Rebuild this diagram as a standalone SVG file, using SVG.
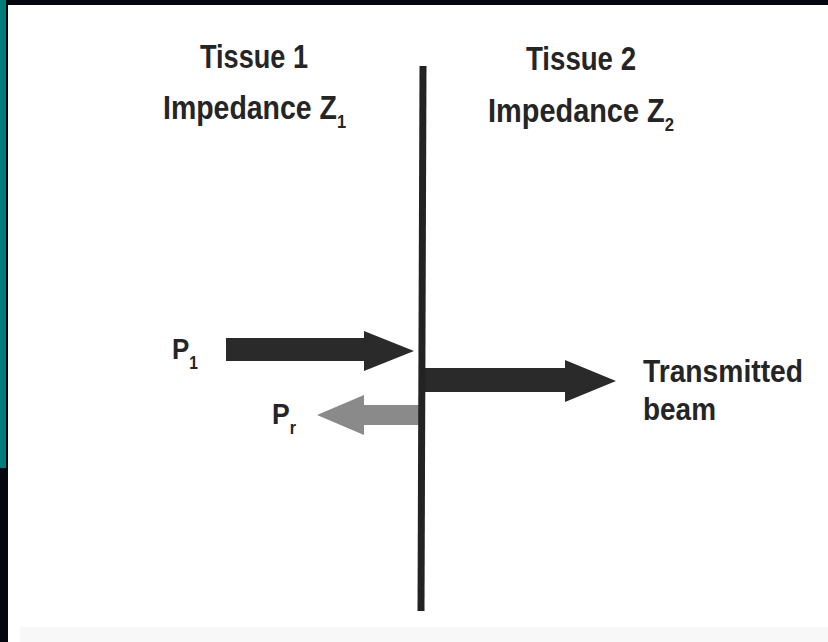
<svg xmlns="http://www.w3.org/2000/svg" width="828" height="642" viewBox="0 0 828 642">
<style>
.t{font-family:"Liberation Sans Narrow","Liberation Sans",Arial,sans-serif;font-weight:bold;fill:#252525}
.big{font-size:33px}
.sub{font-size:19px}
.dark{fill:#2a2a2a}
.grey{fill:#8a8a8a}
</style>
<rect x="0" y="0" width="828" height="642" fill="#04070e"/>
<rect x="0" y="0" width="6" height="468" fill="#007c7a"/>
<rect x="8" y="5" width="820" height="637" fill="#ffffff"/>
<rect x="20" y="627" width="808" height="15" fill="#f8f8f8"/>
<g id="tissue1">
<text class="t big" x="200" y="68" textLength="108" lengthAdjust="spacingAndGlyphs">Tissue 1</text>
<text class="t big" x="163" y="119" textLength="183" lengthAdjust="spacingAndGlyphs">Impedance Z<tspan class="sub" dy="9">1</tspan></text>
</g>
<g id="tissue2">
<text class="t big" x="526" y="70" textLength="110" lengthAdjust="spacingAndGlyphs">Tissue 2</text>
<text class="t big" x="488" y="122" textLength="186" lengthAdjust="spacingAndGlyphs">Impedance Z<tspan class="sub" dy="9">2</tspan></text>
</g>
<g id="p1-label">
<text class="t" font-size="30" x="172" y="359" textLength="26" lengthAdjust="spacingAndGlyphs">P<tspan font-size="18" dy="10">1</tspan></text>
</g>
<g id="pr-label">
<text class="t" font-size="30" x="272" y="424" textLength="24" lengthAdjust="spacingAndGlyphs">P<tspan font-size="18" dy="10">r</tspan></text>
</g>
<g id="transmitted-label">
<text class="t" font-size="31" x="643" y="382" textLength="160" lengthAdjust="spacingAndGlyphs">Transmitted</text>
<text class="t" font-size="31" x="643" y="420" textLength="73" lengthAdjust="spacingAndGlyphs">beam</text>
</g>
<g id="connectors">
<polygon id="reflected" class="grey" points="422,405 364,405 364,395 317,415 364,435 364,425 422,425"/>
<polygon id="incident" class="dark" points="226,338 364,338 364,331 414,351 364,371 364,361 226,361"/>
<polygon id="transmitted" class="dark" points="425,368 565,368 565,360 616,381 565,402 565,392 425,392"/>
</g>
<g id="interface">
<line x1="423" y1="66" x2="421" y2="611" stroke="#232323" stroke-width="7"/>
</g>
</svg>
